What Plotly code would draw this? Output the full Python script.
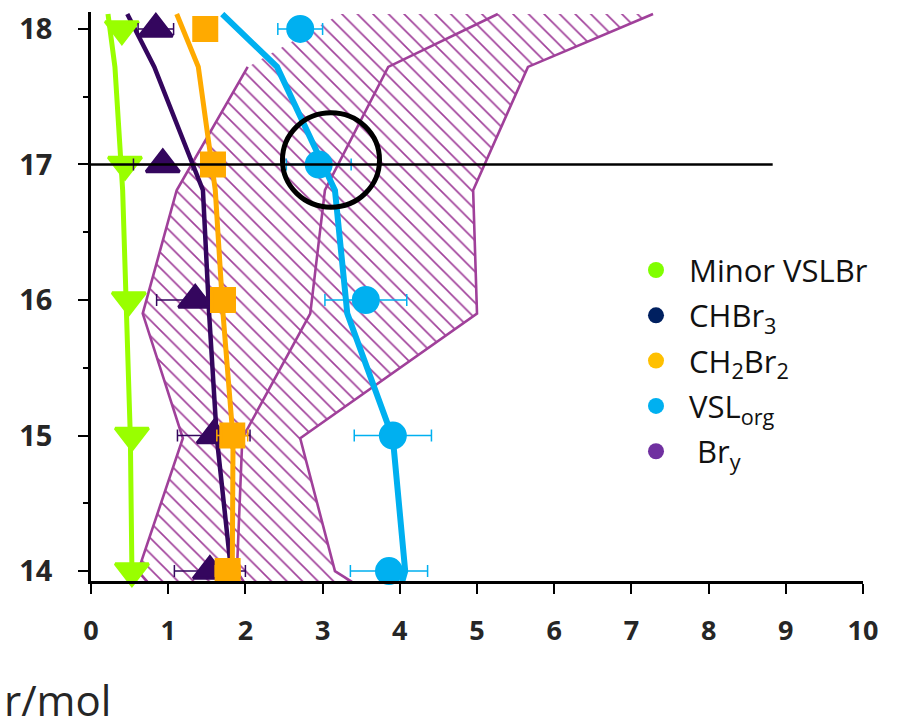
import plotly.graph_objects as go

# ---- data ----
profile_alt = [18.11, 17.72, 16.81, 15.90, 14.98, 14.00, 13.92]
minor_line = [0.22, 0.31, 0.41, 0.46, 0.51, 0.53, 0.53]
chbr3_line = [0.47, 0.82, 1.45, 1.53, 1.63, 1.81, 1.83]
ch2br2_line = [1.11, 1.39, 1.61, 1.71, 1.84, 1.83, 1.81]
vsl_line = [1.70, 2.41, 3.16, 3.32, 3.91, 4.07, 4.03]

bry_min = [3.23, 2.03, 1.11, 0.67, 1.19, 0.61, 0.73]
bry_mid = [5.27, 3.85, 3.03, 2.84, 1.96, 1.89, 1.98]
bry_max = [7.28, 5.66, 4.95, 5.00, 2.71, 3.16, 3.38]

obs_alt = [18, 17, 16, 15, 14]
minor_obs = [0.40, 0.44, 0.49, 0.53, 0.53]
chbr3_obs = [0.84, 0.93, 1.35, 1.59, 1.54]
chbr3_err = [0.23, 0.38, 0.50, 0.47, 0.46]
ch2br2_obs = [1.48, 1.58, 1.71, 1.83, 1.77]
ch2br2_err = [0.0, 0.0, 0.0, 0.20, 0.16]
vsl_obs = [2.71, 2.95, 3.56, 3.91, 3.86]
vsl_err = [0.29, 0.42, 0.53, 0.50, 0.50]

legend_names = ["Minor VSLBr", "CHBr<sub>3</sub>", "CH<sub>2</sub>Br<sub>2</sub>",
                "VSL<sub>org</sub>", " Br<sub>y</sub>"]
legend_colors = ["#80ff00", "#002060", "#ffc000", "#00b0f0", "#7030a0"]

x_ticks = list(range(0, 11))
y_ticks = [14, 15, 16, 17, 18]
ref_alt = 17
ref_line_end = 8.83
circle_box = [2.48, 16.685, 3.737, 17.381]

BRY = "#a0409a"
GREEN = "#99ff00"
DARK = "#34065e"
ORANGE = "#ffaa00"
CYAN = "#00b0f0"

fig = go.Figure()

# Bry hatched envelope
fig.add_trace(go.Scatter(
    x=bry_min + bry_max[::-1] + [bry_min[0]],
    y=profile_alt + profile_alt[::-1] + [profile_alt[0]],
    mode="lines", line=dict(width=0, color="rgba(0,0,0,0)"),
    fill="toself", fillcolor="rgba(255,255,255,0)",
    fillpattern=dict(shape="\\", fgcolor=BRY, bgcolor="rgba(255,255,255,0)",
                     size=11, solidity=0.15, fillmode="replace"),
    showlegend=False, hoverinfo="skip"))

for xs in (bry_min[1:], bry_mid, bry_max):
    ys = profile_alt[1:] if len(xs) == len(profile_alt) - 1 else profile_alt
    fig.add_trace(go.Scatter(x=xs, y=ys, mode="lines",
                             line=dict(color=BRY, width=2.6),
                             showlegend=False, hoverinfo="skip"))

# profile lines
for xs, col, w in ((minor_line, GREEN, 5), (chbr3_line, DARK, 4.5),
                   (ch2br2_line, ORANGE, 5), (vsl_line, CYAN, 6)):
    fig.add_trace(go.Scatter(x=xs, y=profile_alt, mode="lines",
                             line=dict(color=col, width=w),
                             showlegend=False, hoverinfo="skip"))

# observations
def obs(xv, err, col, sym, size):
    kw = {}
    if err is not None:
        kw["error_x"] = dict(type="data", array=err, color=col, thickness=1.5, width=6)
    fig.add_trace(go.Scatter(x=xv, y=obs_alt, mode="markers",
                             marker=dict(color=col, symbol=sym, size=size,
                                         line=dict(width=3, color=col)),
                             cliponaxis=False, showlegend=False, **kw))

obs(minor_obs, None, GREEN, "triangle-down", 29)
obs(chbr3_obs, chbr3_err, DARK, "triangle-up", 29)
obs(ch2br2_obs, ch2br2_err, ORANGE, "square", 23)
obs(vsl_obs, vsl_err, CYAN, "circle", 25)

# legend entries
for i, (name, col) in enumerate(zip(legend_names, legend_colors)):
    fig.add_trace(go.Scatter(x=[None], y=[None], mode="markers", name=name,
                             legendgroup=f"g{i}",
                             marker=dict(color=col, symbol="circle", size=25)))

fig.add_shape(type="line", x0=0, x1=ref_line_end, y0=ref_alt, y1=ref_alt,
              line=dict(color="black", width=2.5), layer="above")
fig.add_shape(type="circle", x0=circle_box[0], y0=circle_box[1],
              x1=circle_box[2], y1=circle_box[3],
              line=dict(color="black", width=5), layer="above")

fig.add_annotation(text="r/mol", xref="paper", yref="paper",
                   x=-88 / 772, y=-(700 - 581) / 573, xanchor="left", yanchor="middle",
                   showarrow=False, borderpad=0,
                   font=dict(family="Open Sans", size=42, color="#262626"))

fig.update_layout(
    width=904, height=727,
    margin=dict(l=91, r=41, t=8, b=146),
    paper_bgcolor="white", plot_bgcolor="white",
    font=dict(family="Open Sans", color="#262626"),
    showlegend=True,
    legend=dict(x=(623 - 91) / 772, y=(581 - 241) / 573, xanchor="left", yanchor="top",
                font=dict(family="Open Sans", size=31, color="#111111"),
                bgcolor="rgba(255,255,255,0)", itemwidth=56, tracegroupgap=2),
    xaxis=dict(range=[0, 10], tickvals=x_ticks, showgrid=False, zeroline=False,
               showline=True, linecolor="black", linewidth=2.5,
               ticks="outside", ticklen=10, tickwidth=2, tickcolor="black",
               ticklabelstandoff=14,
               tickfont=dict(family="Open Sans", size=27, weight="bold", color="#262626")),
    yaxis=dict(range=[13.927, 18.125], tickvals=y_ticks, showgrid=False, zeroline=False,
               showline=True, linecolor="black", linewidth=2.5,
               ticks="outside", ticklen=10, tickwidth=2, tickcolor="black",
               minor=dict(dtick=0.5, ticks="outside", ticklen=5, tickwidth=2, tickcolor="black"),
               ticklabelstandoff=20,
               tickfont=dict(family="Open Sans", size=29, weight="bold", color="#262626")),
)

fig.write_html("out.html")
